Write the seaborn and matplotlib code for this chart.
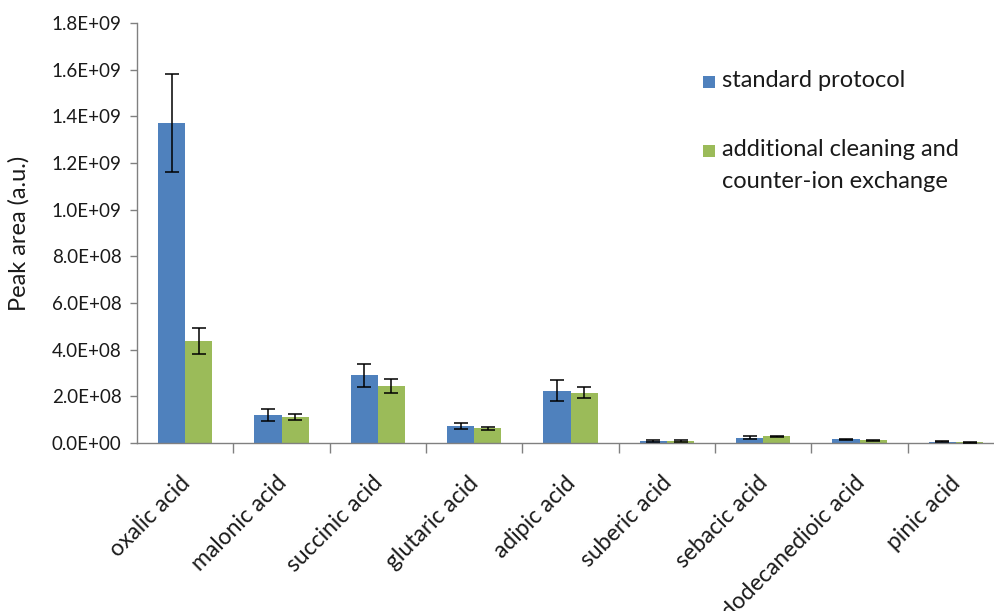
import matplotlib
matplotlib.use("Agg")
import matplotlib.pyplot as plt
import matplotlib.transforms as mtransforms
from matplotlib.patches import Rectangle
from matplotlib.ticker import FixedLocator, FuncFormatter
import seaborn as sns
import pandas as pd
import numpy as np

# Dicarboxylic acid peak areas for two sample preparation protocols
acids = ["oxalic acid", "malonic acid", "succinic acid", "glutaric acid",
         "adipic acid", "suberic acid", "sebacic acid",
         "dodecanedioic acid", "pinic acid"]
protocols = ["standard protocol",
             "additional cleaning and\ncounter-ion exchange"]
standard_mean = [1.37e9, 0.121e9, 0.290e9, 0.073e9, 0.224e9,
                 0.010e9, 0.023e9, 0.016e9, 0.006e9]
standard_err = [0.21e9, 0.025e9, 0.048e9, 0.012e9, 0.046e9,
                0.004e9, 0.006e9, 0.003e9, 0.002e9]
cleaned_mean = [0.437e9, 0.113e9, 0.243e9, 0.063e9, 0.216e9,
                0.009e9, 0.029e9, 0.012e9, 0.003e9]
cleaned_err = [0.055e9, 0.013e9, 0.030e9, 0.005e9, 0.025e9,
               0.003e9, 0.003e9, 0.003e9, 0.001e9]
yticks = [0, 0.2e9, 0.4e9, 0.6e9, 0.8e9, 1.0e9, 1.2e9, 1.4e9, 1.6e9, 1.8e9]

colors = ["#4F81BD", "#9BBB59"]

df = pd.DataFrame({
    "acid": acids * 2,
    "protocol": [protocols[0]] * len(acids) + [protocols[1]] * len(acids),
    "area": standard_mean + cleaned_mean,
    "err": standard_err + cleaned_err,
})

sns.set_style("white")
plt.rcParams["font.family"] = ["Lato", "DejaVu Sans"]

W, H = 995, 611
fig = plt.figure(figsize=(W / 100, H / 100), dpi=100)
ax = fig.add_axes([0.1377, 0.2749, 0.8714, 0.6875])

sns.barplot(data=df, x="acid", y="area", hue="protocol", order=acids,
            hue_order=protocols, palette=colors, width=0.566, gap=0,
            errorbar=None, saturation=1, linewidth=0, ax=ax, legend=False)

# error bars at the centre of each drawn bar
for i, prot in enumerate(protocols):
    cont = ax.containers[i]
    sub = df[df["protocol"] == prot].set_index("acid").loc[acids]
    xs = [p.get_x() + p.get_width() / 2 for p in cont.patches]
    ax.errorbar(xs, sub["area"].values, yerr=sub["err"].values, fmt="none",
                ecolor="black", elinewidth=1.1, capsize=5, capthick=1.1,
                zorder=5)

ax.set_xlim(-0.5, len(acids) - 0.5)
ax.set_ylim(0, 1.8e9)
ax.yaxis.set_major_locator(FixedLocator(yticks))
ax.yaxis.set_major_formatter(FuncFormatter(lambda v, _: "{:.1E}".format(v)))

for s in ["top", "right"]:
    ax.spines[s].set_visible(False)
for s in ["left", "bottom"]:
    ax.spines[s].set_color("#808080")
    ax.spines[s].set_linewidth(1.0)

ax.tick_params(axis="y", which="major", direction="out", length=5,
               color="#808080", width=1.0, labelsize=13.5, pad=6,
               labelcolor="#1a1a1a", left=True)
# category boundaries carry the x ticks
ax.set_xticks(np.arange(0.5, len(acids) - 0.5, 1.0), minor=True)
ax.tick_params(axis="x", which="minor", direction="out", length=7,
               color="#808080", width=1.0, bottom=True)
ax.tick_params(axis="x", which="major", length=0, pad=21,
               labelsize=16.5, labelcolor="#1a1a1a")
ax.set_xticks(range(len(acids)))
ax.set_xticklabels(acids, rotation=45, ha="right", va="top",
                   rotation_mode="anchor")
offset = mtransforms.ScaledTranslation(-6 / 100, 0, fig.dpi_scale_trans)
for lab in ax.get_xticklabels():
    lab.set_transform(lab.get_transform() + offset)

ax.set_xlabel("")
ax.set_ylabel("Peak area (a.u.)", fontsize=17, color="#1a1a1a", labelpad=16)

# legend: square swatch aligned with the first line of each entry
legend_rows = [(82, protocols[0]), (151, protocols[1])]
for (ytop, label), c in zip(legend_rows, colors):
    fig.patches.append(Rectangle((703 / W, 1 - (ytop + 6) / H), 12 / W, 12 / H,
                                 transform=fig.transFigure, facecolor=c,
                                 edgecolor="none"))
    fig.text(722 / W, 1 - (ytop - 12) / H, label, ha="left", va="top",
             fontsize=17, color="#1a1a1a", linespacing=1.62)

fig.savefig("out.png", dpi=100)
